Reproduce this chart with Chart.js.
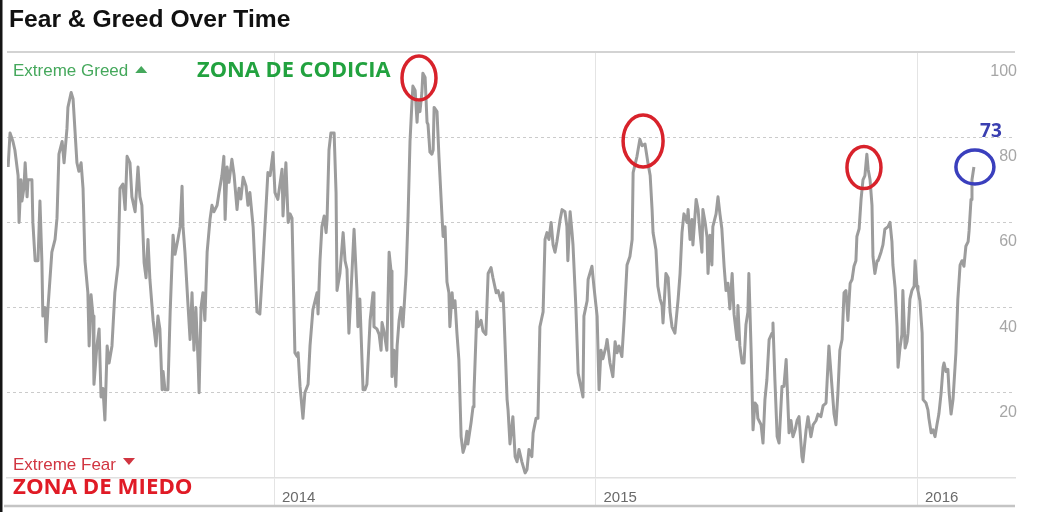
<!DOCTYPE html>
<html>
<head>
<meta charset="utf-8">
<style>
html,body{margin:0;padding:0;background:#fff;}
#wrap{width:1055px;height:512px;position:relative;}
</style>
<script src="https://cdn.jsdelivr.net/npm/chart.js@4.4.0/dist/chart.umd.min.js"></script>
</head>
<body>
<div id="wrap"><canvas id="c" width="1055" height="512"></canvas></div>
<script>
// ---- data (fractional year, Fear & Greed index value) ----
const dates = [
2013.173,2013.179,2013.188,2013.194,2013.204,2013.207,2013.213,2013.216,2013.222,2013.226,2013.232,2013.235,2013.247,2013.250,2013.257,2013.266,2013.272,2013.278,2013.281,2013.288,2013.291,2013.297,2013.309,2013.319,2013.325,2013.331,2013.341,2013.347,2013.356,2013.359,2013.369,2013.375,2013.387,2013.393,2013.400,2013.406,2013.412,2013.421,2013.425,2013.431,2013.437,2013.440,2013.449,2013.456,2013.462,2013.468,2013.474,2013.481,2013.487,2013.496,2013.505,2013.515,2013.521,2013.530,2013.537,2013.543,
2013.552,2013.558,2013.568,2013.577,2013.583,2013.589,2013.596,2013.602,2013.608,2013.614,2013.624,2013.633,2013.639,2013.645,2013.652,2013.655,2013.661,2013.670,2013.677,2013.686,2013.692,2013.701,2013.708,2013.714,2013.717,2013.723,2013.733,2013.739,2013.745,2013.751,2013.757,2013.764,2013.767,2013.773,2013.779,2013.785,2013.792,2013.801,2013.807,2013.813,2013.823,2013.829,2013.838,2013.844,2013.848,2013.854,2013.860,2013.869,2013.876,2013.885,2013.891,2013.897,2013.904,2013.913,2013.919,2013.925,
2013.935,2013.947,2013.956,2013.966,2013.981,2013.988,2013.997,2014.003,2014.012,2014.025,2014.028,2014.037,2014.044,2014.050,2014.056,2014.065,2014.072,2014.075,2014.081,2014.090,2014.096,2014.106,2014.112,2014.121,2014.134,2014.137,2014.143,2014.149,2014.156,2014.162,2014.165,2014.171,2014.177,2014.187,2014.193,2014.196,2014.205,2014.215,2014.221,2014.227,2014.233,2014.243,2014.249,2014.258,2014.261,2014.267,2014.277,2014.283,2014.289,2014.299,2014.308,2014.311,2014.320,
2014.327,2014.333,2014.336,2014.342,2014.351,2014.358,2014.364,2014.367,2014.373,2014.379,2014.383,2014.389,2014.395,2014.401,2014.411,2014.417,2014.423,2014.429,2014.432,2014.439,2014.445,2014.448,2014.454,2014.460,2014.463,2014.470,2014.476,2014.479,2014.485,2014.491,2014.495,2014.498,2014.507,2014.513,2014.523,2014.526,2014.532,2014.538,2014.544,2014.547,2014.554,2014.557,2014.563,2014.569,2014.575,2014.582,2014.588,2014.594,2014.600,2014.603,2014.613,2014.619,2014.622,2014.631,2014.635,2014.644,2014.650,2014.659,2014.666,2014.675,2014.681,2014.691,2014.697,2014.706,2014.712,
2014.715,2014.725,2014.728,2014.734,2014.743,2014.750,2014.756,2014.762,2014.771,2014.781,2014.787,2014.793,2014.802,2014.806,2014.815,2014.821,2014.827,2014.837,2014.843,2014.849,2014.855,2014.862,2014.868,2014.874,2014.880,2014.890,2014.896,2014.905,2014.911,2014.914,2014.921,2014.927,2014.930,2014.939,2014.946,2014.961,2014.964,2014.974,2014.977,2014.989,2014.995,2015.005,2015.011,2015.017,2015.023,2015.033,2015.036,2015.045,2015.054,2015.061,2015.067,2015.073,2015.082,2015.089,
2015.098,2015.107,2015.114,2015.117,2015.129,2015.138,2015.145,2015.154,2015.163,2015.170,2015.176,2015.179,2015.188,2015.194,2015.201,2015.207,2015.210,2015.219,2015.226,2015.232,2015.238,2015.247,2015.257,2015.263,2015.269,2015.275,2015.285,2015.288,2015.294,2015.300,2015.303,2015.313,2015.319,2015.325,2015.331,2015.334,2015.341,2015.347,2015.350,2015.356,2015.362,2015.365,2015.375,2015.381,2015.387,2015.393,2015.400,2015.406,2015.412,2015.418,2015.425,2015.431,2015.440,2015.443,2015.449,2015.456,2015.462,2015.468,2015.474,2015.477,2015.484,2015.490,
2015.496,2015.502,2015.505,2015.515,2015.521,2015.527,2015.533,2015.540,2015.549,2015.552,2015.558,2015.565,2015.571,2015.580,2015.586,2015.593,2015.596,2015.602,2015.608,2015.614,2015.621,2015.627,2015.633,2015.642,2015.645,2015.655,2015.661,2015.670,2015.677,2015.686,2015.692,2015.701,2015.708,2015.717,2015.726,2015.736,2015.742,2015.748,2015.754,2015.760,2015.767,2015.773,2015.779,2015.785,2015.792,2015.798,2015.804,2015.810,2015.813,2015.820,2015.826,2015.832,2015.838,2015.844,2015.848,2015.854,2015.860,2015.863,2015.869,2015.876,
2015.879,2015.888,2015.894,2015.900,2015.910,2015.916,2015.922,2015.925,2015.932,2015.938,2015.941,2015.947,2015.953,2015.956,2015.963,2015.969,2015.972,2015.978,2015.984,2015.991,2015.994,2016.000,2016.003,2016.009,2016.016,2016.019,2016.028,2016.034,2016.037,2016.044,2016.050,2016.056,2016.062,2016.068,2016.075,2016.081,2016.084,2016.090,2016.096,2016.100,2016.106,2016.112,2016.121,2016.127,2016.134,2016.140,2016.146,2016.152,2016.159,2016.162,2016.168,2016.171,2016.177
];
const values = [
73,81,79,77,71,60,70,65,68,74,66,70,70,60,51,51,65,51,38,40,32,40,53,56,61,76,79,74,82,87,90.5,89,74,72,74,68,51,43.5,31,43,38,22,31,35,19,21,13.6,31,27,31,43.5,50,68,69,63,75.5,
74,66,62.5,73,66,64,50.5,47,56,46.6,37,31,38,35,20.7,25,20.7,20.7,39,57,52.5,56,59,68.5,59,53,40,32.5,43.5,30,40,27,20,40,43.5,37,53,60.7,64,62.5,64,67,71,75.5,60.7,73,69.4,74.8,71,63,68,65.5,70.6,68.5,64,67,
59,39,38.5,51,71.7,71,76.4,67,65.4,72.5,61.5,74,60,62,61,29.4,28.5,29.4,21.5,14,20,22,31,39.5,43.5,38.5,51,59,61.5,57.6,60.7,77,81,81,67,44,48,57.6,51,49,34,49,58.4,44,35.5,42,20.7,20.7,22,37,43.5,35.5,35,
33.7,30,36.5,34.5,30,53,48.6,23.8,30,21.5,31,37,40,35.5,48,61.5,79,88,92,91,83.5,88,86,90.5,95,94,83.5,83,76.5,76,77,87,86,75.5,60.7,56.7,59,46,43.5,35.5,43.5,40,41.6,34,27.8,9.7,6,7.5,11,8,13,16.7,20,39,35.5,37,34.5,33.7,48,49.4,47,43.5,44,41.6,43.5,
39,18.4,16,8,14.4,5,3.8,6.7,3.8,1.2,2,6.7,5,10.6,14,14,35.5,39,56,57.6,56,60,54.7,53,55.5,60.7,63,62.5,59,51,62.5,57.6,54.7,40,24.6,19,38,41.6,46.6,49.7,45,38,20.7,30,28,31,32.5,27,23.8,32,29.4,31,28.5,37,
50,52,56,71.7,75.5,79.5,78,78.4,74,71,63,57.6,53.6,45,42,40.5,36.4,48,47,39,35.5,34,42,48,57.6,62,60,63,56,60.7,54.7,65.4,63,57.6,53,63,60,56.5,48,57,50,59,62,66,62,58.5,49.7,44,45.7,39.7,48,38.4,32.5,40.5,31,27,27,36,39,48,30,11.3,
17.6,17,14,12.5,8.2,18.4,23,32.5,34,36.4,23,9.7,8.2,21.5,21.5,27.8,22,10.6,13.5,9.7,11.3,13.5,14.4,5,3.8,11.3,14.4,9.7,12.5,13.5,15,14.4,17,17.6,31,21,15,12.5,20,30,32.5,43.5,44,37,45.7,46.6,49.7,51,56.7,58.5,65.4,70,71,76,72.5,70,64,52,48,51,
51,53,54.7,58.4,59,60,55.5,50,44.5,35.5,26,30.5,33.7,44,30.5,32,34,42,44,45,51,45,44,41.6,34,18.4,17.6,16,14,10.6,11.3,9.7,12.5,15,20,26,27,25,25.5,20,15,18.4,29.4,42,50,51,49.7,54.4,55.5,58,65.4,70,73
];
const yearTicks = [2014, 2015, 2016];
const valueTicks = [0, 20, 40, 60, 80, 100];
// annotated greed peaks (centres of the red rings, in data units)
const peakRingDates = [2014.451, 2015.148, 2015.835];
const peakRingValues = [93.9, 79.1, 72.9];

const titleText = 'Fear & Greed Over Time';
const greedLabel = 'Extreme Greed';
const fearLabel = 'Extreme Fear';
const greedZone = 'ZONA DE CODICIA';
const fearZone = 'ZONA DE MIEDO';

const decor = {
  id: 'decor',
  afterDraw(chart) {
    const {ctx, chartArea: a, scales: {x, y}} = chart;
    ctx.save();
    // left dark edge
    ctx.fillStyle = '#151515';
    ctx.fillRect(0, 0, 2.5, chart.height);
    // top rule at 100
    const yTop = y.getPixelForValue(100);
    ctx.strokeStyle = '#d3d3d3'; ctx.lineWidth = 2;
    ctx.beginPath(); ctx.moveTo(a.left, yTop); ctx.lineTo(a.right, yTop); ctx.stroke();
    // bottom rule
    ctx.strokeStyle = '#c4c4c4'; ctx.lineWidth = 2.5;
    ctx.beginPath(); ctx.moveTo(4, x.bottom - 1); ctx.lineTo(a.right, x.bottom - 1); ctx.stroke();

    // title
    ctx.fillStyle = '#111';
    ctx.font = 'bold 23px "Liberation Sans", Arial, sans-serif';
    ctx.textBaseline = 'alphabetic'; ctx.textAlign = 'left';
    ctx.save(); ctx.translate(9, 27); ctx.scale(1.07, 1);
    ctx.fillText(titleText, 0, 0); ctx.restore();

    // extreme greed label + up triangle
    ctx.font = '17px "Liberation Sans", Arial, sans-serif';
    ctx.fillStyle = '#45a85c';
    const gy = a.top + 24;
    ctx.fillText(greedLabel, 13, gy);
    let w = ctx.measureText(greedLabel).width;
    ctx.beginPath(); ctx.moveTo(13 + w + 7, gy - 3); ctx.lineTo(13 + w + 19, gy - 3); ctx.lineTo(13 + w + 13, gy - 10); ctx.closePath(); ctx.fill();

    // extreme fear label + down triangle
    ctx.fillStyle = '#d13541';
    const fy = a.bottom - 8;
    ctx.fillText(fearLabel, 13, fy);
    w = ctx.measureText(fearLabel).width;
    ctx.beginPath(); ctx.moveTo(13 + w + 7, fy - 12); ctx.lineTo(13 + w + 19, fy - 12); ctx.lineTo(13 + w + 13, fy - 5); ctx.closePath(); ctx.fill();

    // zone captions
    ctx.font = 'bold 21px "Open Sans", "Liberation Sans", sans-serif';
    ctx.fillStyle = '#22a23f';
    ctx.save(); ctx.translate(197, gy + 1); ctx.scale(1.04, 1); ctx.fillText(greedZone, 0, 0); ctx.restore();
    ctx.fillStyle = '#e01b26';
    ctx.save(); ctx.translate(13, a.bottom + 16); ctx.scale(1.06, 1); ctx.fillText(fearZone, 0, 0); ctx.restore();

    // red rings on greed peaks
    ctx.strokeStyle = '#d8222b'; ctx.lineWidth = 3.5;
    const rx = [17, 20, 17], ry = [22, 26, 21];
    peakRingDates.forEach((d, i) => {
      const cx = x.getPixelForValue(d), cy = y.getPixelForValue(peakRingValues[i]);
      ctx.beginPath(); ctx.ellipse(cx, cy, rx[i], ry[i], 0, 0, Math.PI * 2); ctx.stroke();
    });
    // blue ring on latest value
    const lastD = dates[dates.length - 1], lastV = values[values.length - 1];
    const bx = x.getPixelForValue(lastD) + 1, by = y.getPixelForValue(lastV);
    ctx.strokeStyle = '#3a3fbd'; ctx.lineWidth = 3.5;
    ctx.beginPath(); ctx.ellipse(bx, by, 19, 17, 0, 0, Math.PI * 2); ctx.stroke();
    ctx.fillStyle = '#3a3fb0';
    ctx.font = 'bold 19px "Open Sans", "Liberation Sans", sans-serif';
    ctx.textAlign = 'center';
    ctx.fillText(String(Math.round(lastV)), bx + 16, by - 30);
    ctx.restore();
  }
};

new Chart(document.getElementById('c'), {
  type: 'line',
  data: {
    datasets: [{
      data: dates.map((d, i) => ({x: d, y: values[i]})),
      borderColor: '#9c9c9c',
      borderWidth: 3,
      pointRadius: 0,
      tension: 0,
      borderJoinStyle: 'round',
      fill: false
    }]
  },
  options: {
    responsive: false,
    animation: false,
    devicePixelRatio: 1,
    layout: {padding: {top: 52, left: 7, right: 40, bottom: 5}},
    plugins: {legend: {display: false}, tooltip: {enabled: false}, title: {display: false}},
    scales: {
      x: {
        type: 'linear',
        min: 2013.1695,
        max: 2016.3048,
        afterBuildTicks: s => { s.ticks = yearTicks.map(v => ({value: v})); },
        afterFit: s => { s.height = 29; },
        grid: {color: '#e4e4e4', lineWidth: 1, drawTicks: true, tickLength: 29, tickColor: '#e4e4e4'},
        border: {display: true, color: '#e0e0e0', width: 1.5},
        ticks: {
          align: 'start', labelOffset: 8, padding: -18, maxRotation: 0, autoSkip: false,
          color: '#6a6a6a', font: {family: '"Liberation Sans", Arial, sans-serif', size: 15},
          callback: v => String(v)
        }
      },
      y: {
        position: 'right',
        min: 0, max: 100,
        afterBuildTicks: s => { s.ticks = valueTicks.map(v => ({value: v})); },
        afterFit: s => { s.width = 0; },
        grid: {
          color: c => (c.tick && (c.tick.value === 0 || c.tick.value === 100)) ? 'rgba(0,0,0,0)' : '#cbcbcb',
          lineWidth: 1, drawTicks: false
        },
        border: {display: false, dash: [3, 3]},
        ticks: {
          mirror: true, padding: 2, labelOffset: 19.5,
          color: '#a6a6a6', font: {family: '"Liberation Sans", Arial, sans-serif', size: 16},
          callback: v => v === 0 ? '' : String(v)
        }
      }
    }
  },
  plugins: [decor]
});
</script>
</body>
</html>
